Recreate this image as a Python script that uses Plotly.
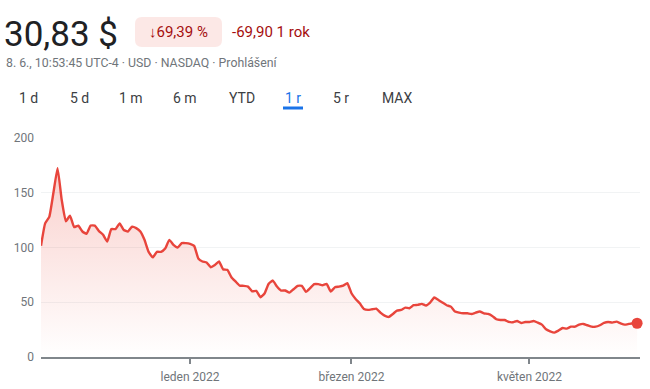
import pandas as pd
import plotly.graph_objects as go

# ---- data ----
holidays = ["2021-11-25", "2021-12-24", "2022-01-17", "2022-02-21", "2022-04-15", "2022-05-30"]
dates = [d.strftime("%Y-%m-%d") for d in pd.bdate_range("2021-11-10", "2022-06-08")
         if d.strftime("%Y-%m-%d") not in holidays]

prices = [
    101.5, 122.0, 128.0, 150.0, 172.5, 143.6, 124.0, 129.0, 118.6, 120.0,
    114.6, 112.5, 120.0, 120.0, 115.0, 111.6, 105.5, 116.8, 116.8, 122.0,
    116.0, 114.6, 119.0, 117.7, 114.6, 107.0, 96.0, 91.0, 96.0, 96.0,
    99.0, 107.0, 102.4, 100.0, 104.0, 104.0, 103.4, 101.5, 90.0, 87.2,
    86.3, 82.0, 84.0, 87.2, 80.0, 79.6, 72.9, 69.0, 65.2, 65.0,
    64.3, 60.0, 60.4, 54.6, 58.0, 66.8, 69.8, 64.3, 60.7, 60.7,
    58.8, 61.9, 65.0, 65.0, 59.5, 62.8, 66.5, 66.5, 65.5, 66.8,
    59.8, 63.7, 64.3, 65.2, 67.4, 58.2, 53.0, 49.0, 43.9, 43.0,
    43.6, 44.2, 40.5, 37.8, 36.6, 39.3, 42.4, 43.0, 45.1, 44.5,
    47.3, 47.6, 48.5, 47.0, 49.7, 54.3, 52.1, 49.7, 47.3, 46.0,
    41.5, 40.5, 39.9, 39.9, 39.3, 40.5, 41.5, 39.9, 39.3, 37.5,
    34.5, 33.8, 33.8, 32.0, 31.7, 32.9, 31.1, 32.0, 32.0, 32.9,
    31.4, 29.6, 25.3, 23.5, 22.3, 24.1, 26.5, 25.9, 27.7, 27.7,
    29.6, 30.2, 29.0, 27.7, 27.7, 29.0, 31.1, 32.0, 31.4, 32.3,
    30.8, 29.6, 30.2, 30.8, 30.83,
]
n = min(len(dates), len(prices))
dates, prices = dates[:n], prices[:n]

y_ticks = [0, 50, 100, 150, 200]
x_tick_dates = ["2022-01-03", "2022-03-01", "2022-05-02"]
x_tick_labels = ["leden 2022", "březen 2022", "květen 2022"]

price_text = "30,83 $"
change_pct = "↓69,39 %"
change_abs = "-69,90 1 rok"
subtitle = "8. 6., 10:53:45 UTC-4 · USD · NASDAQ · Prohlášení"
tabs = ["1 d", "5 d", "1 m", "6 m", "YTD", "1 r", "5 r", "MAX"]
tab_x = [28, 79, 131, 185, 242, 293, 341, 397]
active_tab = "1 r"

# ---- layout geometry (pixels) ----
W, H = 650, 389
L, R, T, B = 41, 640, 138, 357


def px(x):
    return (x - L) / (R - L)


def py(y):
    return (B - y) / (B - T)


RED = "#e8453c"
FONT = "Roboto, Arial, sans-serif"

fig = go.Figure()
fig.add_trace(go.Scatter(
    x=dates, y=prices, mode="lines",
    line=dict(color=RED, width=2.4, shape="spline", smoothing=0.4),
    fill="tozeroy",
    fillgradient=dict(type="vertical", start=0, stop=max(prices),
                      colorscale=[[0, "rgba(234,67,53,0)"], [1, "rgba(234,67,53,0.25)"]]),
    hoverinfo="skip", showlegend=False,
))
fig.add_trace(go.Scatter(
    x=[dates[-1]], y=[prices[-1]], mode="markers",
    marker=dict(color=RED, size=11), cliponaxis=False,
    hoverinfo="skip", showlegend=False,
))

fig.update_layout(
    width=W, height=H,
    margin=dict(l=L, r=W - R, t=T, b=H - B, autoexpand=False),
    paper_bgcolor="white", plot_bgcolor="white",
    font=dict(family=FONT, color="#70757a", size=12),
    xaxis=dict(
        type="category", range=[0, n - 1 + 0.7],
        tickvals=x_tick_dates, ticktext=x_tick_labels,
        ticks="outside", ticklen=5, tickwidth=2, tickcolor="#80868b",
        showline=True, linecolor="#80868b", linewidth=2,
        showgrid=False, zeroline=False, automargin=False,
        ticklabelstandoff=3,
        tickfont=dict(size=12, color="#70757a"),
    ),
    yaxis=dict(
        range=[0, 200], tickvals=y_ticks,
        showgrid=True, gridcolor="#f1f3f4", gridwidth=1,
        zeroline=False, showline=False, ticks="", automargin=False,
        ticklabelstandoff=6,
        tickfont=dict(size=12, color="#70757a"),
    ),
)

ann = []
ann.append(dict(x=px(2), y=py(34), text=price_text, xanchor="left", yanchor="middle",
                font=dict(size=35, color="#202124", family=FONT)))
# badge
bx0, bx1, by0, by1, r = 135, 222, 17, 47, 7
path = (f"M {px(bx0 + r)} {py(by0)} L {px(bx1 - r)} {py(by0)} Q {px(bx1)} {py(by0)} {px(bx1)} {py(by0 + r)} "
        f"L {px(bx1)} {py(by1 - r)} Q {px(bx1)} {py(by1)} {px(bx1 - r)} {py(by1)} "
        f"L {px(bx0 + r)} {py(by1)} Q {px(bx0)} {py(by1)} {px(bx0)} {py(by1 - r)} "
        f"L {px(bx0)} {py(by0 + r)} Q {px(bx0)} {py(by0)} {px(bx0 + r)} {py(by0)} Z")
shapes = [dict(type="path", xref="paper", yref="paper", path=path,
               fillcolor="#fce8e6", line=dict(width=0), layer="below")]
ann.append(dict(x=px((bx0 + bx1) / 2), y=py(32), text=change_pct, xanchor="center", yanchor="middle",
                font=dict(size=15, color="#a50e0e", family=FONT)))
ann.append(dict(x=px(230), y=py(32), text=change_abs, xanchor="left", yanchor="middle",
                font=dict(size=15, color="#a50e0e", family=FONT)))
ann.append(dict(x=px(4), y=py(63), text=subtitle, xanchor="left", yanchor="middle",
                font=dict(size=12.3, color="#70757a", family=FONT)))
for t, tx in zip(tabs, tab_x):
    active = t == active_tab
    ann.append(dict(x=px(tx), y=py(98), text=t, xanchor="center", yanchor="middle",
                    font=dict(size=14, color="#1a73e8" if active else "#3c4043", family=FONT)))
    if active:
        shapes.append(dict(type="line", xref="paper", yref="paper",
                           x0=px(tx - 10), x1=px(tx + 10), y0=py(108), y1=py(108),
                           line=dict(color="#1a73e8", width=3)))

for a in ann:
    a.update(xref="paper", yref="paper", showarrow=False)
fig.update_layout(annotations=ann, shapes=shapes)

fig.write_html("out.html", config={"displayModeBar": False},
               post_script="document.body.style.margin='0';")
